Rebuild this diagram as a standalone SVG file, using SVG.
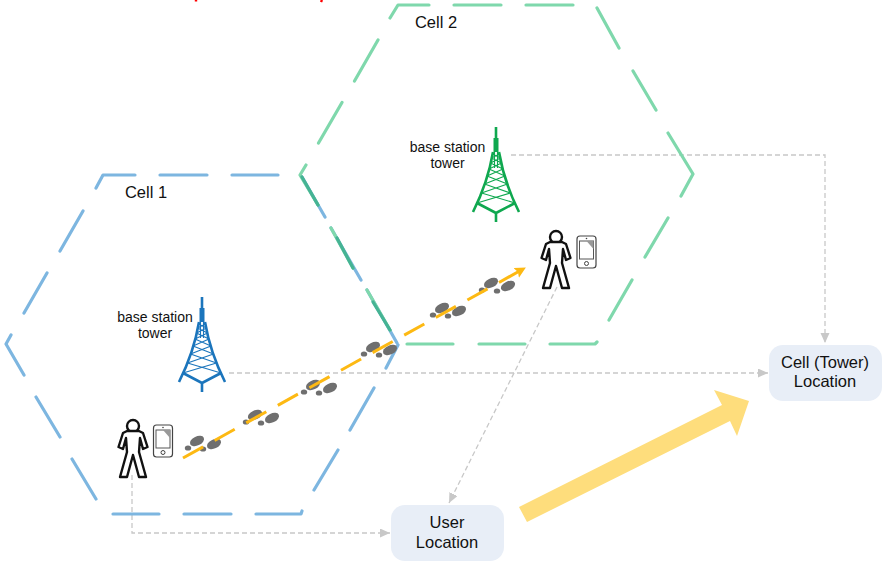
<svg xmlns="http://www.w3.org/2000/svg" width="889" height="567" viewBox="0 0 889 567">
<style>
text{font-family:"Liberation Sans","Noto Sans",sans-serif;fill:#111;text-anchor:middle;stroke:none}
.l{font-size:14px}.c{font-size:16.5px}.n{font-size:16.5px}
.hex{fill:none;stroke-width:3.2;stroke-linecap:round;stroke-linejoin:round}
.blue{stroke:#7db6e0}.green{stroke:#7fd8ac}.teal{stroke:#45b394}
.d{fill:none;stroke:#c8c8c8;stroke-width:1.3;stroke-dasharray:5 3}
.box{fill:#e8eef7}
.foot{fill:#6f6f6f}
.tw{fill:none;stroke-linejoin:round}
.p{fill:#fff;stroke:#111;stroke-width:2.4;stroke-linejoin:round}
</style>
<defs>
<marker id="ga" markerWidth="11" markerHeight="10" refX="10" refY="4.5" orient="auto" markerUnits="userSpaceOnUse"><path d="M0 0L10 4.5L0 9Z" fill="#c8c8c8"/></marker>
<marker id="ya" markerWidth="13" markerHeight="12" refX="10" refY="5.5" orient="auto" markerUnits="userSpaceOnUse"><path d="M0 0L11 5.5L0 11L2 5.5Z" fill="#fdb913"/></marker>
<g id="tower">
<path d="M0 -47V-22M0 39V48M-3 -22Q-8 8 -23 38M3 -22Q8 8 23 38M-19 29L0 39L19 29" stroke-width="2.6"/>
<path d="M0 -36V-22" stroke-width="5"/>
<path d="M-19 29L14.5 19M19 29L-14.5 19M-14.500 19L11.500 10M14.500 19L-11.500 10M-11.500 10L9 2M11.500 10L-9 2M-9 2L7 -5M9 2L-7 -5M-7 -5L5.500 -11M7 -5L-5.500 -11M-5.500 -11L4.500 -16M5.500 -11L-4.500 -16M-4.500 -16L3.500 -20M4.500 -16L-3.500 -20M-1.500 -22V-6M1.500 -22V-6" stroke-width="1.1"/>
</g>
<g id="man"><circle cx="0" cy="-22" r="6"/><path d="M-6 -17H6L10 -15L14.500 -1L10 1L7 -10L6 4L13 29H6L0 7L-6 29H-13L-6 4L-7 -10L-10 1L-14.500 -1L-10 -15Z"/></g>
<g id="phone"><rect x="-9.500" y="-16" width="19" height="32" rx="3" fill="#fff" stroke="#444" stroke-width="1.2"/><rect x="-7" y="-11" width="14" height="18" fill="#fff" stroke="#555" stroke-width="1"/><path d="M0 -11H7V-3Z" fill="#999"/><circle cx="0" cy="-13.500" r=".8" fill="#444"/><circle cx="0" cy="11.500" r="2" fill="none" stroke="#444" stroke-width="1"/></g>
<g id="steps"><ellipse cx="0" cy="0" rx="7.500" ry="4.500" transform="rotate(-25)" class="foot"/><ellipse cx="-9" cy="7" rx="3.200" ry="2.600" class="foot"/><ellipse cx="17" cy="3" rx="7.500" ry="4.500" transform="rotate(-25 17 3)" class="foot"/><ellipse cx="6" cy="8" rx="3.200" ry="2.600" class="foot"/></g>
</defs>
<path d="M196 0V1.500M322 0L321 2" stroke="#f00" stroke-width="2.400" fill="none"/>
<g id="connectors">
<path class="d" d="M132 475V533H390" marker-end="url(#ga)"/>
<path class="d" d="M229 373H768" marker-end="url(#ga)"/>
<path class="d" d="M557 287L449 503" marker-end="url(#ga)"/>
<path class="d" d="M511 155H825V343" marker-end="url(#ga)"/>
</g>
<path id="bigarrow" d="M519 507L527 522L730 421L737 436L749 401L714 390L722 405Z" fill="#fedd7c"/>
<g id="cell1">
<path class="hex blue" d="M96 188L103 175H135M160 175H207M232 175H278M83 211L60 251M47 273L24 313M11 335L6 344L24 375M36 397L60 437M72 459L96 499M113 514H159M184 514H231M256 514H301L302 511M314 490L338 450M350 430L374 388M386 368L398 345"/>
<path class="hex blue" d="M302 177L325 217M331 228L361 280M367 290L397 343"/>
<text class="c" x="146" y="198">Cell 1</text>
</g>
<g id="cell2">
<path class="hex green" d="M390 18L398 5H429M454 5H501M526 5H573M597 8L619 48M633 71L656 110M668 133L693 174L681 196M668 218L645 257M632 280L609 320M597 342L595 344H550M525 344H479M453 344H407M378 40L354.500 81M342 102.500L318.500 143M306 165L300 175L318 205M331 228L353 268M367 290L390 330"/>
<path class="hex teal" d="M302 177L318 205M337 238L353 268M373 302L390 330"/>
<text class="c" x="436" y="28">Cell 2</text>
</g>
<g id="tower1" class="tw" stroke="#1b75bc"><use href="#tower" x="202" y="344"/><text class="l" x="155" y="322">base station<tspan x="155" dy="16.200">tower</tspan></text></g>
<g id="tower2" class="tw" stroke="#0fa84f"><use href="#tower" x="496" y="174"/><text class="l" x="447.500" y="152">base station<tspan x="447.500" dy="16.200">tower</tspan></text></g>
<g id="footsteps"><use href="#steps" x="197" y="441"/><use href="#steps" x="255" y="415"/><use href="#steps" x="313" y="385"/><use href="#steps" x="373" y="347"/><use href="#steps" x="442" y="308"/><use href="#steps" x="491" y="283"/></g>
<path id="route" d="M183 458L525 268" fill="none" stroke="#fdb913" stroke-width="3" stroke-dasharray="23 13.150" marker-end="url(#ya)"/>
<g id="user1"><use href="#man" class="p" x="133" y="448"/><use href="#phone" x="163" y="441"/></g>
<g id="user2"><use href="#man" class="p" x="556" y="259"/><use href="#phone" x="586.500" y="252"/></g>
<g id="userloc"><rect class="box" x="391" y="505" width="113" height="56" rx="14"/><text class="n" x="447" y="528">User<tspan x="447" dy="19.500">Location</tspan></text></g>
<g id="cellloc"><rect class="box" x="769" y="345" width="113" height="56" rx="14"/><text class="n" x="825" y="368">Cell (Tower)<tspan x="825" dy="19.200">Location</tspan></text></g>
</svg>
